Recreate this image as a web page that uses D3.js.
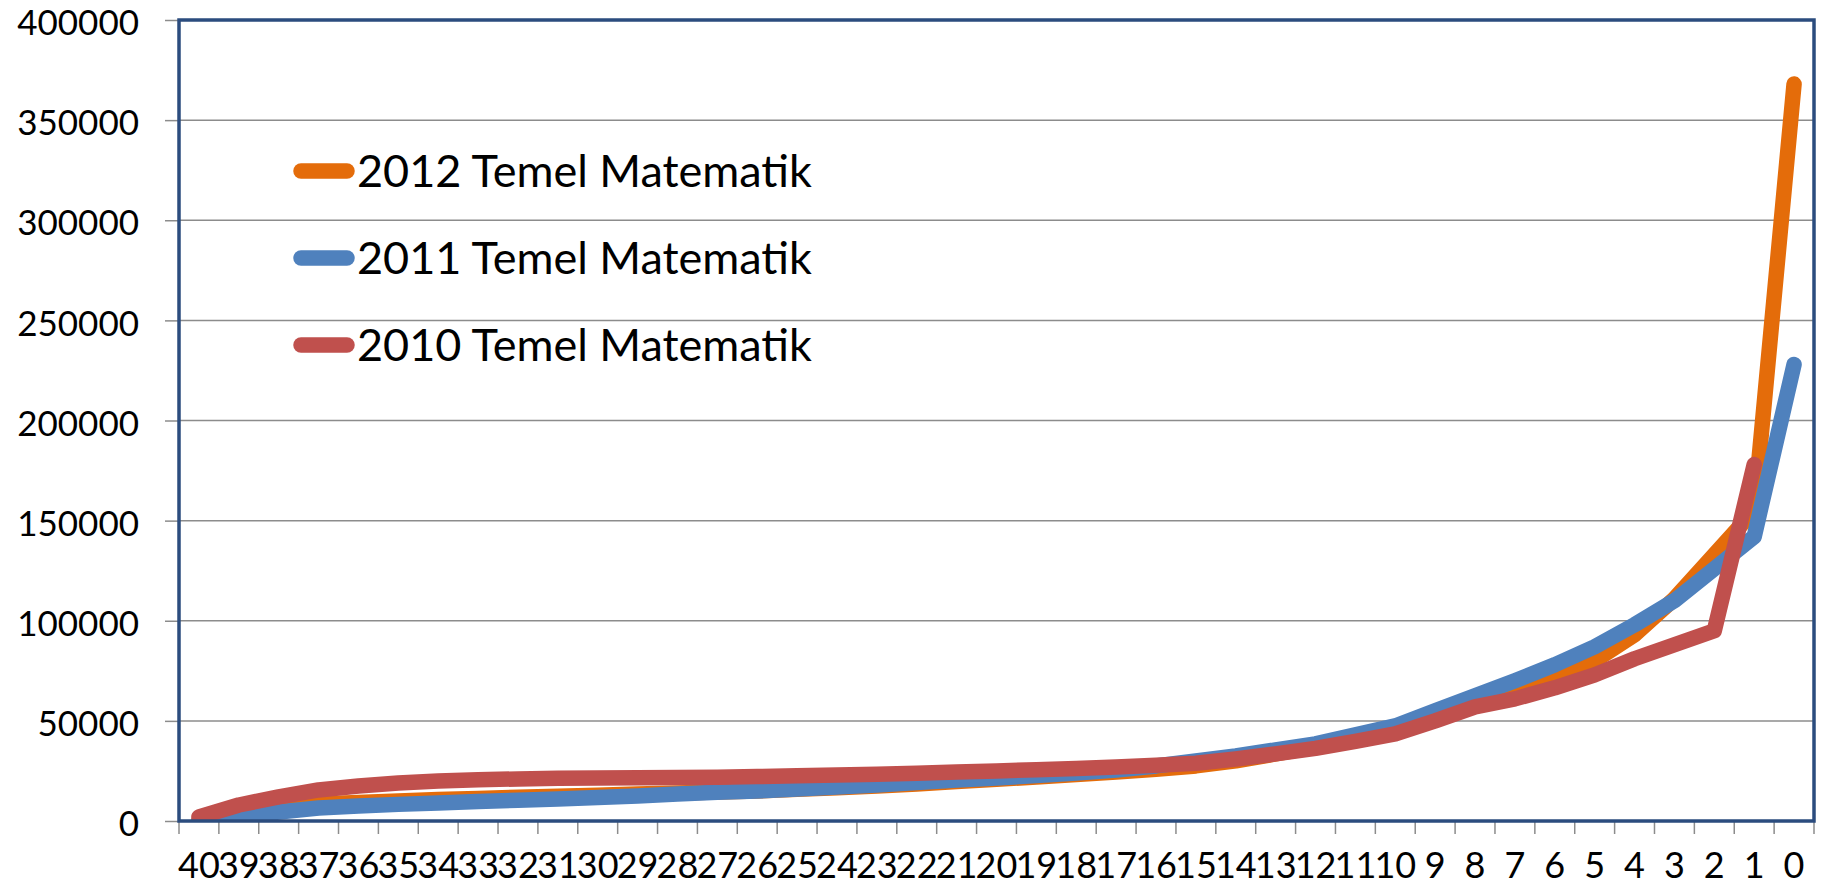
<!DOCTYPE html>
<html>
<head>
<meta charset="utf-8">
<script src="https://cdn.jsdelivr.net/npm/d3@7"></script>
<style>
  html, body { margin: 0; padding: 0; background: #fff; }
  svg { display: block; }
  text { font-family: Lato, 'Noto Sans', sans-serif; fill: #000; }
</style>
</head>
<body>
<div id="chart"></div>
<script>
// categories on the x axis (left to right)
const categories = ['40','39','38','37','36','35','34','33','32','31','30','29','28','27','26','25','24','23','22','21',
    '20','19','18','17','16','15','14','13','12','11','10','9','8','7','6','5','4','3','2','1','0'];
const yTicks = [0, 50000, 100000, 150000, 200000, 250000, 300000, 350000, 400000];
const seriesNames = ['2012 Temel Matematik', '2011 Temel Matematik', '2010 Temel Matematik'];

const values2012 = [0, 3000, 6500, 8500, 9300, 10000, 10700, 11300, 11900, 12400, 12900, 13500, 14000, 14500, 15000, 15800,
    16600, 17500, 18500, 19700, 20800, 22000, 23200, 24500, 25800, 27500, 30000, 33500, 37000, 41500, 46500,
    54000, 61000, 67000, 73000, 80000, 93000, 111000, 133000, 155000, 368000];
const values2011 = [0, 2000, 4500, 6500, 7500, 8300, 9000, 9700, 10400, 11000, 11700, 12500, 13500, 14300, 15000, 16000,
    17000, 18000, 19200, 20500, 21500, 22700, 24000, 25500, 27500, 30000, 32500, 35500, 38500, 43000, 47500,
    55000, 62500, 70000, 78000, 87000, 98000, 110000, 126000, 142000, 228000];
const values2010 = [2000, 8000, 12000, 15500, 17500, 19000, 20000, 20600, 21000, 21300, 21500, 21600, 21700, 21900, 22200, 22600,
    23000, 23400, 23900, 24500, 25000, 25600, 26200, 27000, 27800, 28800, 31000, 33500, 36300, 39800, 43500,
    50000, 57000, 61000, 66500, 73000, 81000, 88000, 95000, 178000, null];

const colors = ['#E46C0A', '#4F81BD', '#C0504D'];
const seriesValues = [values2012, values2011, values2010];

const W = 1825, H = 889;
const plotLeft = 179, plotRight = 1814, plotTop = 20, plotBottom = 821;

const svg = d3.select('#chart').append('svg').attr('width', W).attr('height', H);

const x = d3.scaleBand().domain(categories).range([plotLeft, plotRight]).padding(0);
const y = d3.scaleLinear().domain([0, 400000]).range([plotBottom, plotTop]);
const cx = c => x(c) + x.bandwidth() / 2;

// gridlines
svg.append('g').selectAll('line').data(yTicks.slice(1)).enter().append('line')
    .attr('x1', plotLeft).attr('x2', plotRight).attr('y1', d => y(d)).attr('y2', d => y(d))
    .attr('stroke', '#8c8c8c').attr('stroke-width', 1.5);

// y axis
const yAxis = svg.append('g').attr('transform', `translate(${plotLeft},0)`)
    .call(d3.axisLeft(y).tickValues(yTicks).tickSize(14).tickPadding(26).tickFormat(d => String(d)));
yAxis.select('.domain').remove();
yAxis.selectAll('.tick line').attr('stroke', '#8c8c8c').attr('stroke-width', 1.5);
yAxis.selectAll('.tick text').attr('dy', '0.42em')
    .style('font-size', '35px').style('font-family', 'Lato, sans-serif').attr('fill', '#000');

// x axis ticks at band boundaries
const bounds = categories.map(c => x(c)).concat([plotRight]);
svg.append('g').selectAll('line').data(bounds).enter().append('line')
    .attr('x1', d => d).attr('x2', d => d).attr('y1', plotBottom).attr('y2', plotBottom + 13)
    .attr('stroke', '#8c8c8c').attr('stroke-width', 1.5);
svg.append('g').selectAll('text').data(categories).enter().append('text')
    .attr('x', d => cx(d)).attr('y', 878).attr('text-anchor', 'middle')
    .style('font-size', '36px').text(d => d);

// lines
svg.append('clipPath').attr('id', 'plot-clip').append('rect')
    .attr('x', plotLeft).attr('y', plotTop - 10).attr('width', plotRight - plotLeft).attr('height', plotBottom - plotTop + 10);

const line = d3.line().defined(d => d.v != null).x(d => cx(d.c)).y(d => y(d.v));
const lines = svg.append('g').attr('clip-path', 'url(#plot-clip)');
seriesValues.forEach((vals, i) => {
    lines.append('path')
        .datum(categories.map((c, j) => ({c: c, v: vals[j]})))
        .attr('d', line).attr('fill', 'none').attr('stroke', colors[i])
        .attr('stroke-width', 15.5).attr('stroke-linecap', 'round').attr('stroke-linejoin', 'round');
});

// plot border
svg.append('rect').attr('x', plotLeft).attr('y', plotTop).attr('width', plotRight - plotLeft).attr('height', plotBottom - plotTop)
    .attr('fill', 'none').attr('stroke', '#2B4C7E').attr('stroke-width', 3.5);

// legend
const legendY = [171, 258, 345];
const legend = svg.append('g');
seriesNames.forEach((name, i) => {
    legend.append('line').attr('x1', 301).attr('x2', 347).attr('y1', legendY[i]).attr('y2', legendY[i])
        .attr('stroke', colors[i]).attr('stroke-width', 15.5).attr('stroke-linecap', 'round');
    legend.append('text').attr('x', 357).attr('y', legendY[i]).attr('dy', '0.36em')
        .style('font-size', '45px').text(name);
});
</script>
</body>
</html>
